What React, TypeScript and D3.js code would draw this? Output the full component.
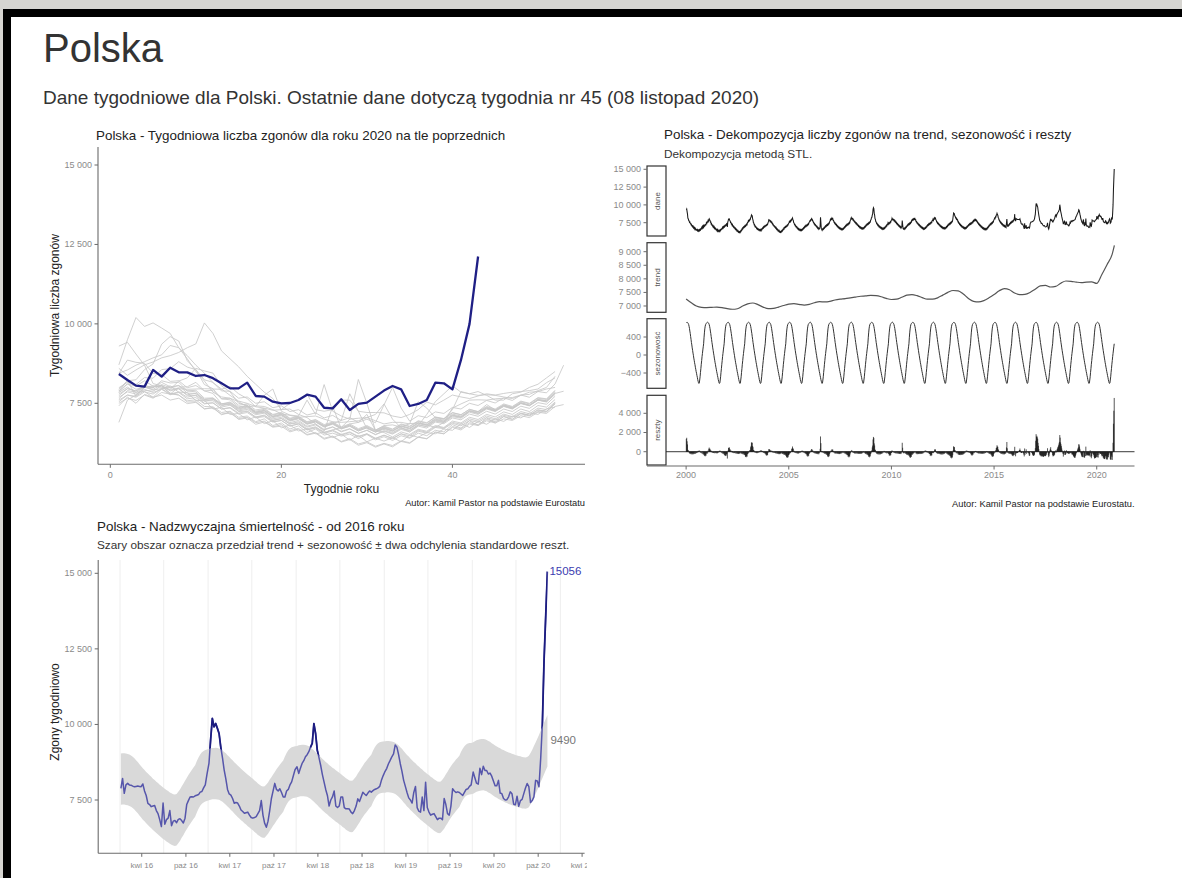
import React from "react";
import * as d3 from "d3";

const W = 1182;
const H = 878;
const FONT = "'Liberation Sans', Arial, Helvetica, sans-serif";

// ---------------- data (weekly deaths, Poland) ----------------
const deaths2000 = [9300,9420,9050,8700,8120,8050,7820,7760,7580,7610,7400,7390,7210, 7250,7060,7100,6920,7010,6800,6880,6690,6790,6580,6690,6500,6560, 6470,6530,6390,6520,6350,6450,6330,6480,6400,6560,6480,6650,6600, 6830,6720,6950,6800,7040,6880,7090,7000,7170,7100,7240,7220,7500];
const deaths2001 = [7420,7700,7500,7780,7690,7950,8050,7850,7840,7580,7600,7320,7370, 7150,7180,6980,7070,6860,6950,6730,6820,6630,6700,6540,6590,6420, 6530,6340,6490,6290,6400,6310,6420,6290,6500,6430,6580,6540,6690, 6650,6860,6740,6930,6840,7010,6930,7100,7040,7200,7150,7330,7380];
const deaths2002 = [6900,7600,7760,8010,8020,8040,7800,7760,7540,7550,7330,7360,7140, 7230,6990,7040,6840,6910,6750,6780,6600,6680,6500,6560,6370,6450, 6280,6360,6180,6260,6120,6220,6130,6300,6240,6430,6390,6600,6540, 6770,6700,6890,6830,6990,6920,7080,6990,7180,7120,7300,7240,7520];
const deaths2003 = [7550,7760,7690,7860,7790,7970,7940,8200,8300,8600,8520,8450,8050, 7860,7500,7440,7190,7210,6970,7020,6850,6880,6700,6760,6590,6660, 6520,6600,6460,6540,6400,6500,6380,6540,6420,6620,6560,6740,6700, 6870,6790,6960,6900,7050,6970,7120,7060,7190,7130,7280,7250,7480];
const deaths2004 = [7640,7900,7850,7870,7690,7760,7600,7660,7490,7530,7320,7360,7160, 7190,7020,7060,6890,6940,6760,6830,6640,6710,6520,6580,6400,6470, 6300,6390,6220,6290,6150,6240,6170,6320,6260,6440,6380,6580,6540, 6740,6660,6850,6800,6950,6880,7010,6960,7110,7050,7220,7180,7400,7460];
const deaths2005 = [7500,7660,7590,7760,7660,7840,7790,8010,8020,8160,7890,7810,7490, 7460,7240,7260,7060,7110,6920,6960,6790,6850,6660,6720,6550,6630, 6500,6580,6440,6540,6390,6490,6400,6540,6480,6650,6590,6770,6720, 6900,6840,7010,6940,7100,7010,7160,7080,7240,7170,7350,7300,7540];
const deaths2006 = [7600,7760,7720,7910,7880,8060,7920,7960,7740,7740,7500,7510,7320, 7350,7160,7210,7040,7080,6910,6960,6780,6850,6670,6740,6580,6660, 6740,7000,8250,7500,6650,6580,6440,6600,6520,6680,6620,6800,6740, 6940,6880,7060,6990,7150,7070,7230,7150,7320,7240,7430,7380,7620];
const deaths2007 = [7740,7960,7890,8060,7990,8160,8020,8060,7820,7810,7580,7580,7380, 7440,7260,7310,7140,7190,7010,7060,6890,6960,6780,6850,6680,6760, 6620,6700,6560,6650,6510,6620,6530,6680,6600,6780,6720,6910,6860, 7040,6980,7160,7090,7250,7160,7320,7240,7410,7340,7520,7470,7720];
const deaths2008 = [7890,8110,8040,8210,8040,8060,7890,7960,7770,7810,7620,7660,7480, 7540,7360,7430,7250,7310,7130,7190,7010,7070,6900,6970,6800,6890, 6730,6810,6660,6760,6620,6740,6640,6790,6710,6880,6820,7000,6940, 7130,7070,7250,7180,7340,7260,7420,7340,7510,7440,7620,7580,7840];
const deaths2009 = [7940,8210,8240,8560,8740,9360,9600,9460,8840,8560,8090,7960,7640, 7610,7390,7420,7220,7270,7080,7140,6960,7030,6850,6920,6760,6840, 6690,6780,6630,6730,6590,6710,6620,6770,6690,6860,6800,6980,6930, 7120,7060,7260,7240,7460,7290,7440,7360,7520,7440,7620,7580,7810,7880];
const deaths2010 = [7840,8110,7940,8010,7920,7960,7790,7860,7690,7760,7560,7620,7420, 7480,7290,7350,7170,7230,7050,7110,6940,7010,6840,6910,6750,6860, 6960,7800,7250,6700,6600,6680,6580,6730,6650,6820,6760,6940,6890, 7080,7030,7220,7150,7320,7240,7400,7320,7490,7420,7600,7560,7840];
const deaths2011 = [7790,7960,7890,8010,7940,8090,7990,8060,7890,7910,7660,7670,7470, 7520,7340,7400,7220,7280,7100,7160,6980,7050,6870,6940,6780,6860, 6700,6780,6630,6730,6600,6720,6630,6790,6720,6890,6830,7020,6970, 7160,7100,7270,7190,7350,7260,7410,7330,7500,7430,7600,7560,7820];
const deaths2012 = [7840,8010,7840,8010,7990,8210,8140,8160,7890,7860,7620,7640,7440, 7500,7320,7380,7200,7260,7080,7140,6970,7040,6870,6940,6780,6870, 6720,6810,6670,6770,6640,6760,6670,6830,6760,6930,6870,7060,7010, 7200,7140,7310,7240,7400,7320,7480,7400,7570,7500,7680,7640,7910];
const deaths2013 = [8440,8860,8790,8760,8440,8410,8190,8210,7990,8060,7890,7910,7640, 7660,7440,7480,7290,7340,7150,7210,7030,7090,6920,6990,6830,6910, 6760,6850,6700,6800,6660,6780,6690,6850,6780,6950,6890,7070,7020, 7210,7140,7310,7230,7380,7290,7440,7350,7510,7430,7600,7540,7780];
const deaths2014 = [7690,7860,7790,7940,7840,7940,7770,7840,7640,7680,7480,7520,7320, 7370,7190,7250,7070,7130,6950,7020,6850,6920,6750,6820,6660,6750, 6600,6690,6550,6650,6520,6640,6550,6710,6640,6820,6770,6960,6910, 7110,7060,7250,7190,7360,7280,7450,7380,7550,7480,7660,7620,7880];
const deaths2015 = [7990,8160,8090,8310,8290,8560,8590,8810,8640,8560,8240,8160,7890, 7880,7660,7700,7500,7550,7360,7420,7240,7300,7130,7200,7040,7120, 6960,7050,6900,7000,6890,7450,8000,7350,6940,7110,7050,7230,7180, 7370,7320,7500,7430,7590,7510,7670,7590,7760,7690,7870,7830,8110,8700];
const deaths2016 = [7885,8215,7720,8000,8050,8000,7990,7960,7940,7950,7960,7950,7940, 8030,7800,7650,7390,7350,7280,7300,7320,7150,7050,6850,6620,7400, 6700,6850,6900,7150,6650,6800,6820,6750,6860,6880,6820,6740,6900, 7350,7480,7600,7610,7600,7640,7660,7680,7760,7780,7900,8000,8350];
const deaths2017 = [8710,9500,10200,9920,10030,9870,9700,9250,8900,8500,8200,7850,7700, 7660,7550,7390,7420,7400,7300,7170,7120,7060,7080,7100,7000,6920, 6900,6920,6950,7050,7150,7480,7000,6730,6600,6800,7150,7550,7800, 8050,7850,7800,7870,7750,7600,7600,7800,7850,8000,8100,8300,8500];
const deaths2018 = [8600,8380,8550,8710,8800,8930,9000,9100,9250,9370,10030,9700,9150, 8900,8650,8350,8100,7850,7650,7300,7500,7600,7800,7300,7250,7300, 7600,7600,7250,7210,7210,7200,7100,7050,7150,7300,7540,7450,7600, 7760,7700,7650,7730,7800,7760,7810,7850,7870,7900,7950,8150,8300];
const deaths2019 = [8450,8550,8700,8810,8930,9025,9320,9250,9000,8700,8450,8150,7950, 7750,7570,7500,7400,7750,7950,7250,7130,7100,7600,7150,8090,7250, 7100,7000,7030,7050,6950,6850,6900,6900,6850,7550,7350,7050,7000, 7300,7870,7800,7750,7770,7750,7700,7650,7750,7850,7870,7950,8000];
const deaths2020 = [8424,8235,8056,8025,8550,8340,8620,8475,8475,8360,8390,8290,8130, 7970,7970,8150,7730,7710,7550,7500,7510,7605,7770,7710,7360,7340, 7625,7290,7480,7520,7710,7900,8045,7940,7415,7480,7605,8150,8130, 7940,8865,10000,12120,13600,15056];

const years = [2000,2001,2002,2003,2004,2005,2006,2007,2008,2009,2010,2011,2012,2013,2014,2015,2016,2017,2018,2019,2020];
const weeklyDeaths = [deaths2000,deaths2001,deaths2002,deaths2003,deaths2004,deaths2005,deaths2006,deaths2007,deaths2008,deaths2009,deaths2010,deaths2011,deaths2012,deaths2013,deaths2014,deaths2015,deaths2016,deaths2017,deaths2018,deaths2019,deaths2020];

// STL trend, read quarterly from 2000.0, plus the last week
const trendQuarterly = [7260,7120,7000,6950, 6940,6950,6960,6940, 6900,6880,6900,7000, 7080,7110,7050,6960, 6900,6910,6960,7020, 7070,7090,7060,7030, 7060,7120,7160,7150, 7170,7220,7250,7270, 7300,7330,7360,7370, 7390,7380,7340,7280, 7240,7250,7320,7400, 7420,7380,7310,7250, 7250,7300,7400,7500, 7570,7560,7440,7280, 7170,7150,7200,7300, 7420,7560,7640,7600, 7480,7420,7430,7500, 7620,7740,7760,7700, 7720,7840,7920,7910, 7880,7860,7880,7890, 7830,8160,8520,8900];
const trendLast = { t: 2020.86, v: 9230 };
// STL seasonal component by week of year
const seasonalByWeek = [715,725,730,722,715,698,676,638,592,532,478,408,348, 278,224,158,104,42,-6,-68,-116,-172,-216,-272,-316,-368, -406,-458,-496,-548,-582,-618,-632,-622,-556,-484,-386,-304,-206, -124,-36,36,112,182,250,382,492,580,640,676,696,706,712];

const chart1LastWeek2020 = 43;
const expectedLast = 9490;
const bandHalfWidth = 850;

const chart1XTicks = [0, 20, 40];
const chart1YTicks = [7500, 10000, 12500, 15000];
const stlYearTicks = [2000, 2005, 2010, 2015, 2020];
const stlPanelNames = ["dane", "trend", "sezonowość", "reszty"];
const stlPanelTicks = [[7500, 10000, 12500, 15000], [7000, 7500, 8000, 8500, 9000], [-400, 0, 400], [0, 2000, 4000]];
const chart3YTicks = [7500, 10000, 12500, 15000];
const chart3TickYears = [2016, 2017, 2018, 2019, 2020, 2021];
const chart3MonthLabels = ["kwi", "paź"];

// ---------------- helpers ----------------
const fmt = (v: number) => d3.format(",")(v).replace(/,/g, " ");
const weekTime = (year: number, week: number) => year + ((week - 1) * 7 + 3.5) / 365.25;

type Pt = { year: number; week: number; t: number; v: number };
const points: Pt[] = years.flatMap((year, i) =>
  weeklyDeaths[i].map((v, j) => ({ year, week: j + 1, t: weekTime(year, j + 1), v }))
);
const trendPts = trendQuarterly.map((v, i) => ({ t: 2000 + i * 0.25, v })).concat([trendLast]);
const trendAt = d3.scaleLinear().domain(trendPts.map((d) => d.t)).range(trendPts.map((d) => d.v)).clamp(true);
const seasonal = (w: number) => seasonalByWeek[w - 1];

export default function App() {
  // ---------- chart 1 ----------
  const x1 = d3.scaleLinear().domain([-1.44, 55.5]).range([98, 585]);
  const y1 = d3.scaleLinear().domain([5580, 15567]).range([464.3, 147]);
  const line1 = d3.line<number>().x((_, i) => x1(i + 1)).y((d) => y1(d));
  const grey = years.map((y, i) => ({ y, vals: weeklyDeaths[i] })).filter((d) => d.y < 2020);
  const blue = deaths2020.slice(0, chart1LastWeek2020);

  // ---------- chart 2 (STL) ----------
  const xs = d3.scaleLinear().domain([1999.02, 2021.84]).range([666, 1134.5]);
  const panels = [
    { top: 166, bottom: 236, domain: [5632, 15463] },
    { top: 242.7, bottom: 312.3, domain: [6768, 9331] },
    { top: 318.7, bottom: 388.3, domain: [-740, 807] },
    { top: 395.3, bottom: 465, domain: [-1385, 5875] },
  ].map((p) => ({ ...p, y: d3.scaleLinear().domain(p.domain).range([p.bottom, p.top]) }));
  const [pD, pT, pS, pR] = panels;
  const danePath = d3.line<Pt>().x((d) => xs(d.t)).y((d) => pD.y(d.v))(points) || "";
  const trendPath = d3.line<{ t: number; v: number }>().x((d) => xs(d.t)).y((d) => pT.y(d.v)).curve(d3.curveMonotoneX)(trendPts) || "";
  const seasPath = d3.line<Pt>().x((d) => xs(d.t)).y((d) => pS.y(seasonal(d.week)))(points) || "";
  const resid = points.map((d) => ({ t: d.t, r: d.v - trendAt(d.t) - seasonal(d.week) }));

  // ---------- chart 3 ----------
  const x3 = d3.scaleLinear().domain([2015.752, 2021.275]).range([98.2, 584.6]);
  const y3 = d3.scaleLinear().domain([5737, 15440]).range([853.3, 560]);
  const p3 = points.filter((d) => d.year >= 2016).map((d) => {
    const c = trendAt(d.t) + seasonal(d.week);
    return { ...d, lo: c - bandHalfWidth, hi: c + bandHalfWidth };
  });
  const bandPath = d3.area<any>().x((d) => x3(d.t)).y0((d) => y3(d.lo)).y1((d) => y3(d.hi))(p3) || "";
  const abovePath = d3.area<any>().x((d) => x3(d.t)).y0(() => 540).y1((d) => y3(d.hi))(p3) || "";
  const line3 = d3.line<any>().x((d) => x3(d.t)).y((d) => y3(d.v))(p3) || "";
  const last = p3[p3.length - 1];
  const ticks3 = chart3TickYears.flatMap((y) => [
    { t: y + 90 / 365, label: `${chart3MonthLabels[0]} ${String(y).slice(2)}` },
    { t: y + 273 / 365, label: `${chart3MonthLabels[1]} ${String(y).slice(2)}` },
  ]).filter((d) => d.t <= x3.domain()[1] && d.t >= x3.domain()[0]);
  const grid3 = chart3TickYears.flatMap((y) => [y, y + 0.496]).filter((t) => t >= x3.domain()[0] && t <= x3.domain()[1]);

  const tickFill = "#8a8a8a";
  const axisCol = "#6b6b6b";
  const titleSize = 13.4;
  const subSize = 11.8;
  const axTitle = 12;
  const tickSize = 9;
  const capSize = 9.3;

  return (
    <svg width={W} height={H} style={{ position: "absolute", left: 0, top: 0, background: "#fff" }} fontFamily={FONT}>
      <defs>
        <clipPath id="above"><path d={abovePath} /></clipPath>
        <clipPath id="c3"><rect x={0} y={500} width={587} height={378} /></clipPath>
      </defs>
      {/* page frame */}
      <rect x={0} y={0} width={W} height={9} fill="#d6d5d1" />
      <rect x={0} y={9} width={W} height={8} fill="#000" />
      <rect x={0} y={0} width={3} height={H} fill="#d6d5d1" />
      <rect x={3} y={9} width={8} height={H - 9} fill="#000" />

      <text x={43} y={62} fontSize={40} fill="#333">Polska</text>
      <text x={43} y={104} fontSize={19} fill="#333">Dane tygodniowe dla Polski. Ostatnie dane dotyczą tygodnia nr 45 (08 listopad 2020)</text>

      {/* ---------- chart 1 ---------- */}
      <text x={96} y={140} fontSize={titleSize} fill="#222">Polska - Tygodniowa liczba zgonów dla roku 2020 na tle poprzednich</text>
      {grey.map((g) => (
        <path key={g.y} d={line1(g.vals) || ""} fill="none" stroke="#c8c8c8" strokeWidth={1} strokeOpacity={0.85} />
      ))}
      <path d={line1(blue) || ""} fill="none" stroke="#1f1f85" strokeWidth={2.3} strokeLinejoin="round" />
      <line x1={98} x2={98} y1={147} y2={464.3} stroke={axisCol} strokeWidth={1.1} />
      <line x1={98} x2={585} y1={464.3} y2={464.3} stroke={axisCol} strokeWidth={1.1} />
      {chart1YTicks.map((t) => (
        <g key={t}>
          <line x1={94.5} x2={98} y1={y1(t)} y2={y1(t)} stroke={axisCol} />
          <text x={92} y={y1(t)} dy="0.32em" textAnchor="end" fontSize={tickSize} fill={tickFill}>{fmt(t)}</text>
        </g>
      ))}
      {chart1XTicks.map((t) => (
        <g key={t}>
          <line x1={x1(t)} x2={x1(t)} y1={464.3} y2={467.8} stroke={axisCol} />
          <text x={x1(t)} y={478} textAnchor="middle" fontSize={tickSize} fill={tickFill}>{t}</text>
        </g>
      ))}
      <text x={341.5} y={493} textAnchor="middle" fontSize={axTitle} fill="#222">Tygodnie roku</text>
      <text transform={`translate(59,305.5) rotate(-90)`} textAnchor="middle" fontSize={axTitle} fill="#222">Tygodniowa liczba zgonów</text>
      <text x={585} y={506} textAnchor="end" fontSize={capSize} fill="#222">Autor: Kamil Pastor na podstawie Eurostatu</text>

      {/* ---------- chart 2 STL ---------- */}
      <text x={664} y={139} fontSize={titleSize} fill="#222">Polska - Dekompozycja liczby zgonów na trend, sezonowość i reszty</text>
      <text x={664} y={158} fontSize={subSize} fill="#333">Dekompozycja metodą STL.</text>
      {panels.map((p, i) => (
        <g key={i}>
          <rect x={647} y={p.top} width={19} height={p.bottom - p.top} fill="#fff" stroke="#333" strokeWidth={1.2} />
          <text transform={`translate(${659.5},${(p.top + p.bottom) / 2}) rotate(-90)`} textAnchor="middle" fontSize={8} fill="#555">{stlPanelNames[i]}</text>
          {stlPanelTicks[i].map((t) => (
            <g key={t}>
              <line x1={643.5} x2={647} y1={p.y(t)} y2={p.y(t)} stroke={axisCol} />
              <text x={641} y={p.y(t)} dy="0.32em" textAnchor="end" fontSize={tickSize} fill={tickFill}>{fmt(t)}</text>
            </g>
          ))}
        </g>
      ))}
      <path d={danePath} fill="none" stroke="#1a1a1a" strokeWidth={1.05} />
      <path d={trendPath} fill="none" stroke="#555" strokeWidth={1.2} />
      <path d={seasPath} fill="none" stroke="#333" strokeWidth={1} />
      <line x1={666} x2={1134.5} y1={pR.y(0)} y2={pR.y(0)} stroke="#222" strokeWidth={0.9} />
      {resid.map((d, i) => (
        <line key={i} x1={xs(d.t)} x2={xs(d.t)} y1={pR.y(0)} y2={pR.y(d.r)} stroke="#111" strokeWidth={0.7} />
      ))}
      <line x1={647} x2={1134.5} y1={466} y2={466} stroke={axisCol} strokeWidth={1.1} />
      {stlYearTicks.map((t) => (
        <g key={t}>
          <line x1={xs(t)} x2={xs(t)} y1={466} y2={469.5} stroke={axisCol} />
          <text x={xs(t)} y={478} textAnchor="middle" fontSize={tickSize} fill={tickFill}>{t}</text>
        </g>
      ))}
      <text x={1134.5} y={507} textAnchor="end" fontSize={capSize} fill="#222">Autor: Kamil Pastor na podstawie Eurostatu.</text>

      {/* ---------- chart 3 ---------- */}
      <text x={97} y={531} fontSize={titleSize} fill="#222">Polska - Nadzwyczajna śmiertelność - od 2016 roku</text>
      <text x={97} y={549} fontSize={subSize} fill="#333">Szary obszar oznacza przedział trend + sezonowość ± dwa odchylenia standardowe reszt.</text>
      {grid3.map((t) => (
        <line key={t} x1={x3(t)} x2={x3(t)} y1={560} y2={853.3} stroke="#ececec" strokeWidth={0.9} />
      ))}
      <path d={bandPath} fill="#d9d9d9" />
      <path d={line3} fill="none" stroke="#5656ab" strokeWidth={1.5} strokeLinejoin="round" />
      <path d={line3} fill="none" stroke="#1c1c80" strokeWidth={1.8} clipPath="url(#above)" strokeLinejoin="round" />
      <text x={x3(last.t) + 2} y={y3(last.v)} dy="0.32em" fontSize={11.5} fill="#3b3bb0">{last.v}</text>
      <text x={x3(last.t) + 3} y={y3(expectedLast)} dy="0.32em" fontSize={11.5} fill="#777">{expectedLast}</text>
      <line x1={98.2} x2={98.2} y1={560} y2={853.3} stroke={axisCol} strokeWidth={1.1} />
      <line x1={98.2} x2={584.6} y1={853.3} y2={853.3} stroke={axisCol} strokeWidth={1.1} />
      {chart3YTicks.map((t) => (
        <g key={t}>
          <line x1={94.7} x2={98.2} y1={y3(t)} y2={y3(t)} stroke={axisCol} />
          <text x={92} y={y3(t)} dy="0.32em" textAnchor="end" fontSize={tickSize} fill={tickFill}>{fmt(t)}</text>
        </g>
      ))}
      <g clipPath="url(#c3)">
        {ticks3.map((d) => (
          <g key={d.t}>
            <line x1={x3(d.t)} x2={x3(d.t)} y1={853.3} y2={856.8} stroke={axisCol} />
            <text x={x3(d.t)} y={868} textAnchor="middle" fontSize={8} fill={tickFill}>{d.label}</text>
          </g>
        ))}
      </g>
      <text transform={`translate(59,712) rotate(-90)`} textAnchor="middle" fontSize={axTitle} fill="#222">Zgony tygodniowo</text>
    </svg>
  );
}
